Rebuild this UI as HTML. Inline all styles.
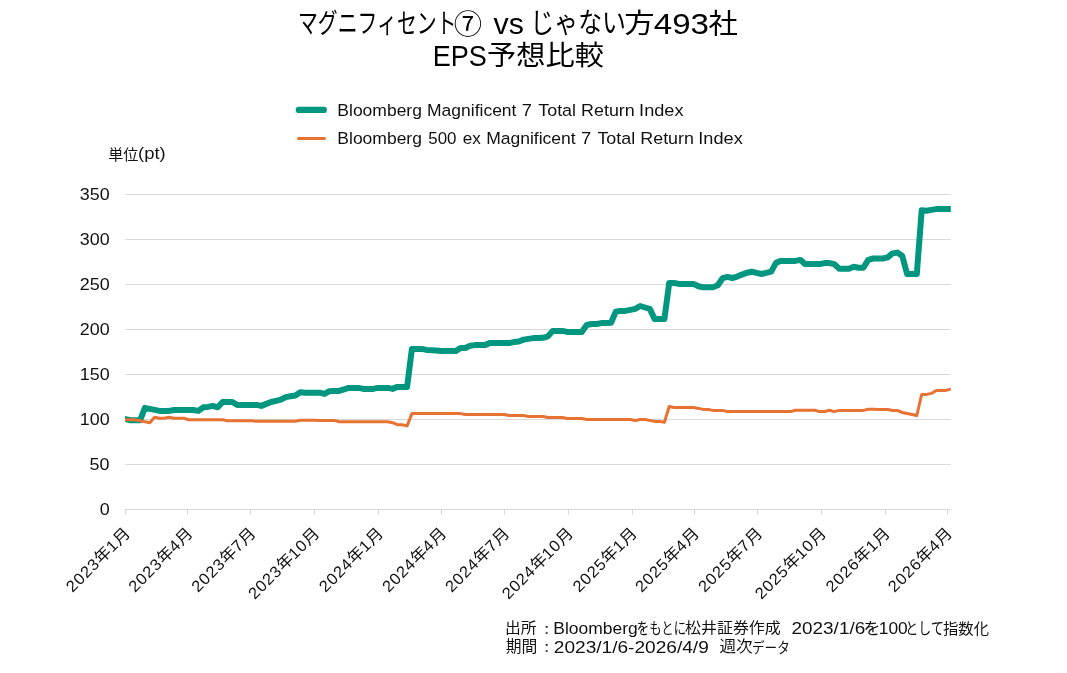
<!DOCTYPE html>
<html lang="ja">
<head>
<meta charset="utf-8">
<title>マグニフィセント⑦ vs じゃない方493社 EPS予想比較</title>
<style>
html,body{margin:0;padding:0;background:#fff;}
body{width:1067px;height:673px;overflow:hidden;}
svg{display:block;}
text{font-family:"Liberation Sans", "Noto Sans CJK JP", sans-serif;white-space:pre;fill:#111111;}
.title{fill:#000000;}
</style>
</head>
<body>
<svg width="1067" height="673" viewBox="0 0 1067 673">
<rect x="0" y="0" width="1067" height="673" fill="#ffffff"/>
<!-- gridlines and axis -->
<g fill="#d9d9d9">
<rect x="125.4" y="194" width="825.1" height="1"/>
<rect x="125.4" y="239" width="825.1" height="1"/>
<rect x="125.4" y="284" width="825.1" height="1"/>
<rect x="125.4" y="329" width="825.1" height="1"/>
<rect x="125.4" y="374" width="825.1" height="1"/>
<rect x="125.4" y="419" width="825.1" height="1"/>
<rect x="125.4" y="464" width="825.1" height="1"/>
<rect x="125" y="509" width="825.7" height="1"/>
<rect x="125" y="509" width="1" height="5.8"/>
<rect x="187" y="509" width="1" height="5.8"/>
<rect x="250" y="509" width="1" height="5.8"/>
<rect x="314" y="509" width="1" height="5.8"/>
<rect x="378" y="509" width="1" height="5.8"/>
<rect x="441" y="509" width="1" height="5.8"/>
<rect x="504" y="509" width="1" height="5.8"/>
<rect x="568" y="509" width="1" height="5.8"/>
<rect x="632" y="509" width="1" height="5.8"/>
<rect x="694" y="509" width="1" height="5.8"/>
<rect x="757" y="509" width="1" height="5.8"/>
<rect x="821" y="509" width="1" height="5.8"/>
<rect x="885" y="509" width="1" height="5.8"/>
<rect x="947" y="509" width="1" height="5.8"/>
</g>
<!-- series -->
<clipPath id="plot"><rect x="125" y="180" width="825.8" height="340"/></clipPath>
<g clip-path="url(#plot)" fill="none" stroke-linejoin="round" stroke-linecap="round">
<path stroke="#00967f" stroke-width="6" d="M125.5 419.1 L130.4 420.2 L135.2 420.3 L140.1 420.3 L144.9 407.9 L149.8 408.9 L154.6 409.9 L159.5 410.9 L164.3 410.9 L169.2 410.9 L174.0 410.0 L178.9 410.0 L183.8 410.0 L188.6 410.0 L193.5 410.0 L198.3 410.9 L203.2 407.3 L208.0 406.9 L212.9 405.9 L217.7 407.3 L222.6 402.0 L227.4 402.0 L232.3 402.0 L237.2 404.9 L242.0 404.9 L246.9 404.9 L251.7 404.9 L256.6 404.9 L261.4 405.9 L266.3 403.9 L271.1 402.0 L276.0 400.8 L280.9 399.6 L285.7 397.1 L290.6 396.3 L295.4 395.5 L300.3 392.2 L305.1 392.7 L310.0 392.7 L314.8 392.7 L319.7 392.7 L324.5 393.9 L329.4 391.2 L334.3 391.0 L339.1 390.9 L344.0 389.3 L348.8 387.9 L353.7 387.9 L358.5 387.9 L363.4 388.9 L368.2 388.9 L373.1 388.9 L377.9 387.9 L382.8 387.9 L387.7 387.9 L392.5 388.9 L397.4 386.9 L402.2 386.9 L407.1 386.9 L411.9 348.9 L416.8 348.9 L421.6 348.9 L426.5 349.9 L431.3 350.2 L436.2 350.5 L441.1 351.1 L445.9 351.1 L450.8 351.1 L455.6 351.1 L460.5 348.0 L465.3 348.0 L470.2 345.8 L475.0 345.1 L479.9 345.1 L484.7 345.1 L489.6 343.1 L494.5 343.1 L499.3 343.1 L504.2 343.0 L509.0 343.0 L513.9 342.1 L518.7 341.5 L523.6 339.6 L528.4 338.9 L533.3 338.1 L538.1 338.0 L543.0 337.8 L547.9 336.4 L552.7 330.9 L557.6 330.9 L562.4 330.9 L567.3 331.9 L572.1 331.9 L577.0 331.9 L581.8 331.9 L586.7 325.0 L591.6 324.0 L596.4 324.0 L601.3 323.1 L606.1 322.9 L611.0 322.7 L615.8 311.8 L620.7 310.9 L625.5 310.9 L630.4 309.9 L635.2 308.9 L640.1 306.0 L645.0 307.5 L649.8 308.9 L654.7 319.1 L659.5 319.1 L664.4 319.1 L669.2 283.0 L674.1 283.0 L678.9 283.9 L683.8 283.9 L688.6 283.9 L693.5 283.9 L698.4 286.3 L703.2 287.3 L708.1 287.3 L712.9 287.3 L717.8 285.3 L722.6 278.2 L727.5 276.9 L732.3 278.0 L737.2 276.6 L742.0 274.6 L746.9 272.7 L751.8 271.7 L756.6 272.9 L761.5 274.0 L766.3 272.9 L771.2 271.7 L776.0 262.8 L780.9 260.9 L785.7 260.9 L790.6 260.9 L795.4 260.9 L800.3 259.9 L805.2 264.1 L810.0 264.1 L814.9 264.1 L819.7 264.1 L824.6 263.1 L829.4 263.1 L834.3 264.1 L839.1 268.7 L844.0 268.7 L848.9 268.7 L853.7 266.8 L858.6 267.7 L863.4 267.7 L868.3 259.9 L873.1 258.5 L878.0 258.5 L882.8 258.5 L887.7 257.3 L892.5 253.4 L897.4 252.6 L902.3 255.9 L907.1 274.0 L912.0 274.0 L916.8 274.0 L921.7 210.3 L926.5 210.8 L931.4 209.9 L936.2 209.1 L941.1 209.0 L945.9 209.0 L950.8 208.9"/>
<path stroke="#e87231" stroke-width="3" d="M125.5 419.7 L130.4 419.7 L135.2 419.7 L140.1 420.7 L144.9 421.7 L149.8 422.7 L154.6 417.3 L159.5 418.3 L164.3 418.3 L169.2 417.3 L174.0 418.3 L178.9 418.3 L183.8 418.3 L188.6 419.7 L193.5 419.7 L198.3 419.7 L203.2 419.7 L208.0 419.7 L212.9 419.7 L217.7 419.7 L222.6 419.7 L227.4 420.7 L232.3 420.7 L237.2 420.7 L242.0 420.7 L246.9 420.7 L251.7 420.7 L256.6 421.3 L261.4 421.3 L266.3 421.3 L271.1 421.3 L276.0 421.3 L280.9 421.3 L285.7 421.3 L290.6 421.3 L295.4 421.3 L300.3 420.3 L305.1 420.3 L310.0 420.3 L314.8 420.3 L319.7 420.4 L324.5 420.4 L329.4 420.4 L334.3 420.4 L339.1 421.7 L344.0 421.7 L348.8 421.7 L353.7 421.7 L358.5 421.7 L363.4 421.7 L368.2 421.7 L373.1 421.7 L377.9 421.7 L382.8 421.7 L387.7 421.7 L392.5 422.7 L397.4 424.7 L402.2 424.7 L407.1 425.9 L411.9 413.6 L416.8 413.6 L421.6 413.6 L426.5 413.6 L431.3 413.6 L436.2 413.6 L441.1 413.6 L445.9 413.6 L450.8 413.6 L455.6 413.6 L460.5 413.6 L465.3 414.5 L470.2 414.5 L475.0 414.5 L479.9 414.5 L484.7 414.5 L489.6 414.5 L494.5 414.5 L499.3 414.5 L504.2 414.5 L509.0 415.5 L513.9 415.5 L518.7 415.5 L523.6 415.5 L528.4 416.5 L533.3 416.5 L538.1 416.5 L543.0 416.5 L547.9 417.5 L552.7 417.5 L557.6 417.5 L562.4 417.5 L567.3 418.5 L572.1 418.5 L577.0 418.5 L581.8 418.5 L586.7 419.5 L591.6 419.5 L596.4 419.5 L601.3 419.5 L606.1 419.5 L611.0 419.5 L615.8 419.5 L620.7 419.5 L625.5 419.5 L630.4 419.5 L635.2 420.5 L640.1 419.5 L645.0 419.5 L649.8 420.4 L654.7 421.4 L659.5 421.4 L664.4 422.4 L669.2 406.5 L674.1 407.5 L678.9 407.5 L683.8 407.5 L688.6 407.5 L693.5 407.5 L698.4 408.4 L703.2 409.4 L708.1 409.4 L712.9 410.4 L717.8 410.4 L722.6 410.4 L727.5 411.6 L732.3 411.6 L737.2 411.6 L742.0 411.6 L746.9 411.6 L751.8 411.6 L756.6 411.6 L761.5 411.6 L766.3 411.6 L771.2 411.6 L776.0 411.6 L780.9 411.6 L785.7 411.6 L790.6 411.6 L795.4 410.2 L800.3 410.2 L805.2 410.2 L810.0 410.2 L814.9 410.2 L819.7 411.6 L824.6 411.6 L829.4 410.2 L834.3 411.6 L839.1 410.4 L844.0 410.4 L848.9 410.4 L853.7 410.4 L858.6 410.4 L863.4 410.4 L868.3 409.2 L873.1 409.3 L878.0 409.4 L882.8 409.4 L887.7 409.5 L892.5 410.5 L897.4 410.5 L902.3 412.5 L907.1 413.5 L912.0 414.5 L916.8 415.5 L921.7 394.4 L926.5 394.4 L931.4 393.4 L936.2 390.4 L941.1 390.4 L945.9 390.4 L950.8 389.1"/>
</g>
<!-- legend keys -->
<line x1="298.8" y1="109.9" x2="323.8" y2="109.9" stroke="#00967f" stroke-width="6.2" stroke-linecap="round"/>
<line x1="298.6" y1="138.5" x2="324.4" y2="138.5" stroke="#e87231" stroke-width="3.2" stroke-linecap="round"/>
<!-- text -->
<text class="title"><tspan x="297.97" y="33.37" font-size="27.73" textLength="158.5" lengthAdjust="spacingAndGlyphs">マグニフィセント</tspan><tspan x="453.79" y="34.27" font-size="27.2" textLength="28.34" lengthAdjust="spacingAndGlyphs">⑦</tspan> <tspan x="493.53" y="33.64" font-size="28.64" textLength="30.35" lengthAdjust="spacingAndGlyphs">vs</tspan> <tspan x="530.37" y="33.15" font-size="28.06" textLength="95.56" lengthAdjust="spacingAndGlyphs">じゃない</tspan><tspan x="624.35" y="32.91" font-size="27.29" textLength="30.29" lengthAdjust="spacingAndGlyphs">方</tspan><tspan x="653.81" y="33.74" font-size="29.63" textLength="55.23" lengthAdjust="spacingAndGlyphs">493</tspan><tspan x="708.51" y="33.65" font-size="28.05" textLength="29.39" lengthAdjust="spacingAndGlyphs">社</tspan></text>
<text class="title"><tspan x="432.83" y="65.63" font-size="30.06" textLength="54" lengthAdjust="spacingAndGlyphs">EPS</tspan><tspan x="487.14" y="64.69" font-size="27.51" textLength="116.87" lengthAdjust="spacingAndGlyphs">予想比較</tspan></text>
<text class="legend"><tspan x="337.33" y="115.9" font-size="16.64" textLength="84.59" lengthAdjust="spacingAndGlyphs">Bloomberg</tspan> <tspan x="427.03" y="115.9" font-size="16.64" textLength="89.45" lengthAdjust="spacingAndGlyphs">Magnificent</tspan> <tspan x="521.84" y="115.9" font-size="16.64" textLength="10.2" lengthAdjust="spacingAndGlyphs">7</tspan> <tspan x="538.22" y="115.9" font-size="16.64" textLength="37.85" lengthAdjust="spacingAndGlyphs">Total</tspan> <tspan x="581.1" y="115.9" font-size="16.64" textLength="53.65" lengthAdjust="spacingAndGlyphs">Return</tspan> <tspan x="639.1" y="115.9" font-size="16.64" textLength="44.45" lengthAdjust="spacingAndGlyphs">Index</tspan></text>
<text class="legend"><tspan x="337.33" y="144" font-size="16.64" textLength="84.59" lengthAdjust="spacingAndGlyphs">Bloomberg</tspan> <tspan x="428.31" y="144" font-size="16.64" textLength="28.24" lengthAdjust="spacingAndGlyphs">500</tspan> <tspan x="462.8" y="144" font-size="16.64" textLength="18.14" lengthAdjust="spacingAndGlyphs">ex</tspan> <tspan x="486.23" y="144" font-size="16.64" textLength="89.45" lengthAdjust="spacingAndGlyphs">Magnificent</tspan> <tspan x="581.04" y="144" font-size="16.64" textLength="10.2" lengthAdjust="spacingAndGlyphs">7</tspan> <tspan x="597.42" y="144" font-size="16.64" textLength="37.85" lengthAdjust="spacingAndGlyphs">Total</tspan> <tspan x="640.3" y="144" font-size="16.64" textLength="53.65" lengthAdjust="spacingAndGlyphs">Return</tspan> <tspan x="698.3" y="144" font-size="16.64" textLength="44.45" lengthAdjust="spacingAndGlyphs">Index</tspan></text>
<text class="unit"><tspan x="108.3" y="159.82" font-size="15.08" textLength="30.09" lengthAdjust="spacingAndGlyphs">単位</tspan><tspan x="138.05" y="158.9" font-size="16.64" textLength="27.6" lengthAdjust="spacingAndGlyphs">(pt)</tspan></text>
<text class="note"><tspan x="504.98" y="633.31" font-size="15.23" textLength="31.53" lengthAdjust="spacingAndGlyphs">出所</tspan><tspan x="539.12" y="634.5" font-size="12" textLength="15.38" lengthAdjust="spacingAndGlyphs">：</tspan><tspan x="553.34" y="633.7" font-size="16.64" textLength="84.39" lengthAdjust="spacingAndGlyphs">Bloomberg</tspan><tspan x="636.85" y="633.86" font-size="15.76" textLength="49.15" lengthAdjust="spacingAndGlyphs">をもとに</tspan><tspan x="685" y="633.39" font-size="15.04" textLength="95.77" lengthAdjust="spacingAndGlyphs">松井証券作成</tspan>  <tspan x="791.51" y="633.7" font-size="16.48" textLength="73.71" lengthAdjust="spacingAndGlyphs">2023/1/6</tspan><tspan x="863.44" y="633.86" font-size="15.76" textLength="17" lengthAdjust="spacingAndGlyphs">を</tspan><tspan x="878.75" y="633.7" font-size="16.48" textLength="28.91" lengthAdjust="spacingAndGlyphs">100</tspan><tspan x="905.37" y="633.67" font-size="15.58" textLength="38.48" lengthAdjust="spacingAndGlyphs">として</tspan><tspan x="943.02" y="633.61" font-size="15.29" textLength="45.97" lengthAdjust="spacingAndGlyphs">指数化</tspan></text>
<text class="note"><tspan x="505.71" y="652.49" font-size="15.45" textLength="31.54" lengthAdjust="spacingAndGlyphs">期間</tspan><tspan x="539.12" y="653.4" font-size="12" textLength="15.38" lengthAdjust="spacingAndGlyphs">：</tspan><tspan x="553.81" y="652.6" font-size="16.48" textLength="154.96" lengthAdjust="spacingAndGlyphs">2023/1/6-2026/4/9</tspan>  <tspan x="719.48" y="652.49" font-size="15.45" textLength="33.25" lengthAdjust="spacingAndGlyphs">週次</tspan><tspan x="752.02" y="652.82" font-size="14.6" textLength="37.77" lengthAdjust="spacingAndGlyphs">データ</tspan></text>
<text transform="translate(99.66 514.81) scale(1.12 1.02)" font-size="16">0</text>
<text transform="translate(89.58 469.81) scale(1.12 1.02)" font-size="16">50</text>
<text transform="translate(79.78 424.81) scale(1.12 1.02)" font-size="16">100</text>
<text transform="translate(79.78 379.81) scale(1.12 1.02)" font-size="16">150</text>
<text transform="translate(79.78 334.81) scale(1.12 1.02)" font-size="16">200</text>
<text transform="translate(79.78 289.81) scale(1.12 1.02)" font-size="16">250</text>
<text transform="translate(79.78 244.81) scale(1.12 1.02)" font-size="16">300</text>
<text transform="translate(79.78 199.81) scale(1.12 1.02)" font-size="16">350</text>
<text transform="translate(72.6 592.96) rotate(-45) scale(1.03 1)" font-size="16"><tspan letter-spacing="0.8">2023</tspan>年<tspan letter-spacing="0.8">1</tspan>月</text>
<text transform="translate(134.98 592.96) rotate(-45) scale(1.03 1)" font-size="16"><tspan letter-spacing="0.8">2023</tspan>年<tspan letter-spacing="0.8">4</tspan>月</text>
<text transform="translate(198.06 592.96) rotate(-45) scale(1.03 1)" font-size="16"><tspan letter-spacing="0.8">2023</tspan>年<tspan letter-spacing="0.8">7</tspan>月</text>
<text transform="translate(254.72 600.06) rotate(-45) scale(1.03 1)" font-size="16"><tspan letter-spacing="0.8">2023</tspan>年<tspan letter-spacing="0.8">10</tspan>月</text>
<text transform="translate(325.59 592.96) rotate(-45) scale(1.03 1)" font-size="16"><tspan letter-spacing="0.8">2024</tspan>年<tspan letter-spacing="0.8">1</tspan>月</text>
<text transform="translate(388.66 592.96) rotate(-45) scale(1.03 1)" font-size="16"><tspan letter-spacing="0.8">2024</tspan>年<tspan letter-spacing="0.8">4</tspan>月</text>
<text transform="translate(451.73 592.96) rotate(-45) scale(1.03 1)" font-size="16"><tspan letter-spacing="0.8">2024</tspan>年<tspan letter-spacing="0.8">7</tspan>月</text>
<text transform="translate(508.39 600.06) rotate(-45) scale(1.03 1)" font-size="16"><tspan letter-spacing="0.8">2024</tspan>年<tspan letter-spacing="0.8">10</tspan>月</text>
<text transform="translate(579.26 592.96) rotate(-45) scale(1.03 1)" font-size="16"><tspan letter-spacing="0.8">2025</tspan>年<tspan letter-spacing="0.8">1</tspan>月</text>
<text transform="translate(641.64 592.96) rotate(-45) scale(1.03 1)" font-size="16"><tspan letter-spacing="0.8">2025</tspan>年<tspan letter-spacing="0.8">4</tspan>月</text>
<text transform="translate(704.71 592.96) rotate(-45) scale(1.03 1)" font-size="16"><tspan letter-spacing="0.8">2025</tspan>年<tspan letter-spacing="0.8">7</tspan>月</text>
<text transform="translate(761.38 600.06) rotate(-45) scale(1.03 1)" font-size="16"><tspan letter-spacing="0.8">2025</tspan>年<tspan letter-spacing="0.8">10</tspan>月</text>
<text transform="translate(832.24 592.96) rotate(-45) scale(1.03 1)" font-size="16"><tspan letter-spacing="0.8">2026</tspan>年<tspan letter-spacing="0.8">1</tspan>月</text>
<text transform="translate(894.62 592.96) rotate(-45) scale(1.03 1)" font-size="16"><tspan letter-spacing="0.8">2026</tspan>年<tspan letter-spacing="0.8">4</tspan>月</text>
</svg>
</body>
</html>
